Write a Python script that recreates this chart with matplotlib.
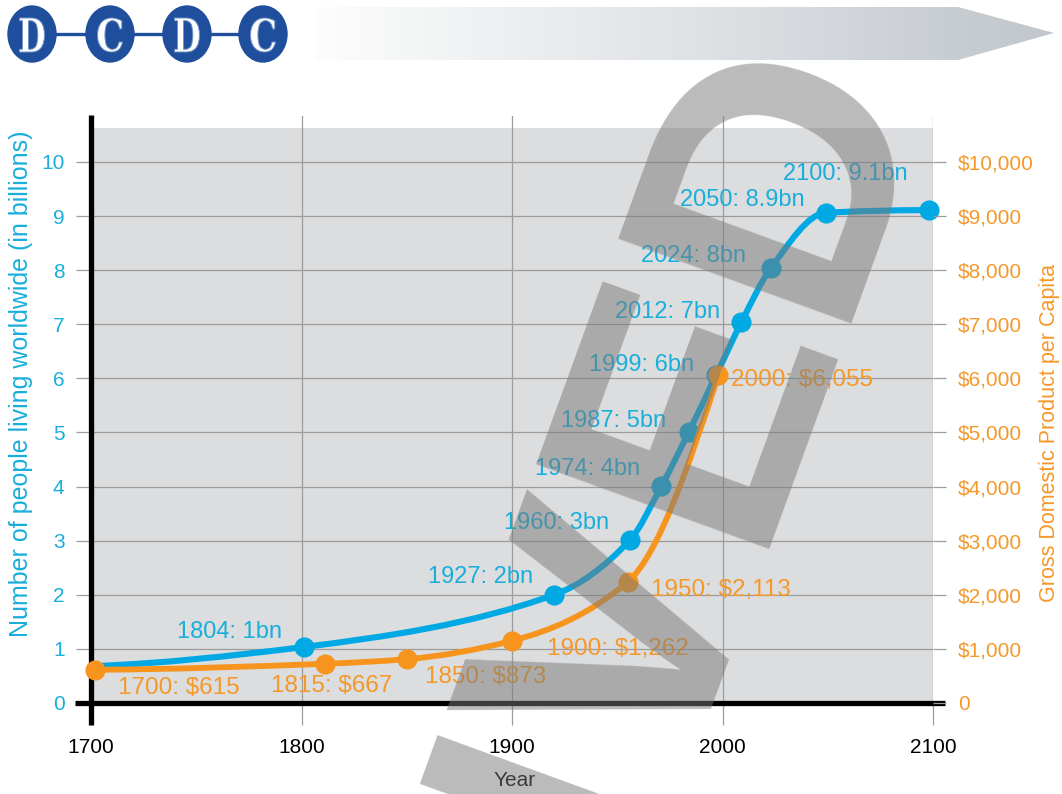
import numpy as np
import matplotlib
matplotlib.use("Agg")
import matplotlib.pyplot as plt
from matplotlib.path import Path
from matplotlib.patches import PathPatch, Ellipse, Polygon
from matplotlib.textpath import TextPath
from matplotlib.font_manager import FontProperties
from matplotlib.colors import LinearSegmentedColormap
from matplotlib.ticker import FuncFormatter

plt.rcParams['font.family'] = ['Liberation Sans', 'DejaVu Sans']

# world population (billions), x = where the point sits on the chart
pop_years = [1700, 1801, 1920, 1956, 1971, 1984, 1997, 2009, 2023, 2049, 2098]
pop_values = [0.68, 1.035, 2.0, 3.01, 4.01, 5.01, 6.06, 7.04, 8.04, 9.06, 9.11]
pop_labels = ["", "1804: 1bn", "1927: 2bn", "1960: 3bn", "1974: 4bn", "1987: 5bn",
              "1999: 6bn", "2012: 7bn", "2024: 8bn", "2050: 8.9bn", "2100: 9.1bn"]

# GDP per capita (US$)
gdp_years = [1702, 1811, 1850, 1900, 1955, 1998]
gdp_values = [615, 725, 810, 1150, 2240, 6055]
gdp_labels = ["1700: $615", "1815: $667", "1850: $873", "1900: $1,262",
              "1950: $2,113", "2000: $6,055"]

x_ticks = [1700, 1800, 1900, 2000, 2100]
pop_ticks = list(range(0, 11))
gdp_ticks = list(range(0, 10001, 1000))

# label offsets (points) from their marker
pop_offsets = [(0, 0), (-53, 11), (-53, 13), (-53, 12), (-53, 12), (-54, 8),
               (-54, 7), (-53, 7), (-56, 9), (-60, 9), (-60, 26)]
gdp_offsets = [(60, -13), (5, -16), (57, -13), (76, -6), (67, -6), (60, -3)]

BLUE = '#00A9E4'
BLUE_TXT = '#19AEDB'
ORANGE = '#F7941D'
ORANGE_TXT = '#F5982A'
GRID = '#9C9C9C'
LOGO = '#1F4E9C'


def pchip_path(xs, ys):
    # monotone cubic through the points, as bezier segments
    x = np.asarray(xs, float)
    y = np.asarray(ys, float)
    h = np.diff(x)
    d = np.diff(y) / h
    n = len(x)
    m = np.zeros(n)
    for k in range(1, n - 1):
        if d[k - 1] * d[k] > 0:
            w1 = 2 * h[k] + h[k - 1]
            w2 = h[k] + 2 * h[k - 1]
            m[k] = (w1 + w2) / (w1 / d[k - 1] + w2 / d[k])

    def end_slope(h0, h1, d0, d1):
        s = ((2 * h0 + h1) * d0 - h0 * d1) / (h0 + h1)
        if np.sign(s) != np.sign(d0):
            s = 0.0
        elif np.sign(d0) != np.sign(d1) and abs(s) > abs(3 * d0):
            s = 3 * d0
        return s

    m[0] = end_slope(h[0], h[1], d[0], d[1])
    m[-1] = end_slope(h[-1], h[-2], d[-1], d[-2])
    verts = [(x[0], y[0])]
    codes = [Path.MOVETO]
    for k in range(n - 1):
        verts += [(x[k] + h[k] / 3, y[k] + m[k] * h[k] / 3),
                  (x[k + 1] - h[k] / 3, y[k + 1] - m[k + 1] * h[k] / 3),
                  (x[k + 1], y[k + 1])]
        codes += [Path.CURVE4] * 3
    return Path(verts, codes)


fig = plt.figure(figsize=(10.62, 7.94), dpi=100)

# ---------------- header: logo + arrow banner ----------------
hdr = fig.add_axes([0, 0, 1, 1], zorder=-1)
hdr.set_xlim(0, 1062)
hdr.set_ylim(794, 0)
hdr.axis('off')

cmap = LinearSegmentedColormap.from_list(
    'banner', [(0, '#FDFDFD'), (0.2, '#F0F2F3'), (0.5, '#E0E3E6'), (0.87, '#C8CDD2'), (1, '#C1C6CC')])
grad = np.linspace(0, 1, 256)[None, :]
im = hdr.imshow(grad, extent=[315, 1054, 60, 7], cmap=cmap, aspect='auto', zorder=1)
arrow = Polygon([[315, 7], [958, 7], [1054, 33], [958, 60], [315, 60]], closed=True,
                fc='none', ec='none', transform=hdr.transData)
hdr.add_patch(arrow)
im.set_clip_path(arrow)

logo_x = [32, 110, 187, 263]
logo_letters = ['D', 'C', 'D', 'C']
hdr.plot([logo_x[0], logo_x[-1]], [34, 34], color=LOGO, lw=2.4, zorder=2)
serif = FontProperties(family='DejaVu Serif', weight='bold')
for lx, ch in zip(logo_x, logo_letters):
    hdr.add_patch(Ellipse((lx, 34), 48, 56, color=LOGO, zorder=3))
    tp = TextPath((0, 0), ch, size=1, prop=serif)
    ext = tp.get_extents()
    sx = 25 / ext.width
    sy = -34 / ext.height
    v = tp.vertices.copy()
    v[:, 0] = (v[:, 0] - (ext.x0 + ext.width / 2)) * sx + lx
    v[:, 1] = (v[:, 1] - (ext.y0 + ext.height / 2)) * sy + 35
    hdr.add_patch(PathPatch(Path(v, tp.codes), fc='white', ec='#6f93c8', lw=0.7, zorder=4))

# ---------------- main chart ----------------
ax = fig.add_axes([91 / 1062, 91 / 794, 842 / 1062, 587 / 794])
ax.set_facecolor('none')
ax.set_xlim(1700, 2100)
ax.set_ylim(0, 10.85)
ax.axhspan(0, 10.63, color='#DCDDDF', zorder=0.2, lw=0)
ax.set_axisbelow(True)
ax.set_xticks(x_ticks)
ax.set_yticks(pop_ticks)
ax.grid(True, color=GRID, lw=0.9)
for s in ax.spines.values():
    s.set_visible(False)
ax.tick_params(axis='x', length=16, width=0.9, color=GRID, pad=9, labelsize=15, labelcolor='black')
ax.tick_params(axis='y', length=11, width=0.9, color=GRID, pad=8, labelsize=15, labelcolor=BLUE_TXT)

# thick black axis lines
ax.plot([0, 0], [-22 / 587, 1.002], transform=ax.transAxes, color='black', lw=3.8,
        clip_on=False, solid_capstyle='butt', zorder=5)
ax.plot([-16 / 842, 1 + 12 / 842], [0, 0], transform=ax.transAxes, color='black', lw=3.8,
        clip_on=False, solid_capstyle='butt', zorder=5)

ax.set_ylabel("Number of people living worldwide (in billions)", color=BLUE_TXT, fontsize=18,
              va='center')
ax.yaxis.set_label_coords(-70 / 842, (703 - 384) / 587)
ax.set_xlabel("Year", fontsize=15, va='center')
ax.xaxis.set_label_coords(0.503, (703 - 780) / 587)

ax.add_patch(PathPatch(pchip_path(pop_years, pop_values), fc='none', ec=BLUE, lw=4.4,
                       capstyle='round', zorder=3))
mk = [i for i, t in enumerate(pop_labels) if t]
ax.plot([pop_years[i] for i in mk], [pop_values[i] for i in mk], 'o', ms=13.5,
        color=BLUE, clip_on=False, zorder=4)
for yr, v, t, off in zip(pop_years, pop_values, pop_labels, pop_offsets):
    if t:
        ax.annotate(t, (yr, v), xytext=off, textcoords='offset points', ha='center',
                    va='center', fontsize=17, color=BLUE_TXT, zorder=6)

ax2 = ax.twinx()
ax2.set_ylim(0, 10850)
ax2.set_yticks(gdp_ticks)
ax2.yaxis.set_major_formatter(FuncFormatter(lambda v, p: "0" if v == 0 else f"${v:,.0f}"))
for s in ax2.spines.values():
    s.set_visible(False)
ax2.tick_params(axis='y', length=9, width=0.9, color=GRID, pad=9, labelsize=15, labelcolor=ORANGE_TXT)
ax2.set_ylabel("Gross Domestic Product per Capita", color=ORANGE_TXT, fontsize=15.5,
               rotation=90, va='center')
ax2.yaxis.set_label_coords((1049 - 91) / 842, (703 - 433) / 587)

ax2.add_patch(PathPatch(pchip_path(gdp_years, gdp_values), fc='none', ec=ORANGE, lw=4.2,
                        capstyle='round', zorder=3))
ax2.plot(gdp_years, gdp_values, 'o', ms=13.5, color=ORANGE, clip_on=False, zorder=4)
for yr, v, t, off in zip(gdp_years, gdp_values, gdp_labels, gdp_offsets):
    ax2.annotate(t, (yr, v), xytext=off, textcoords='offset points', ha='center',
                 va='center', fontsize=17.5, color=ORANGE_TXT, zorder=6)

# watermark across the chart
fig.text(0.873, 0.883, "ARCHIVED", rotation=70, rotation_mode='anchor', ha='right',
         va='baseline', fontsize=259, fontweight='bold', color='#787878', alpha=0.5, zorder=10)

fig.savefig("out.png", dpi=100)
